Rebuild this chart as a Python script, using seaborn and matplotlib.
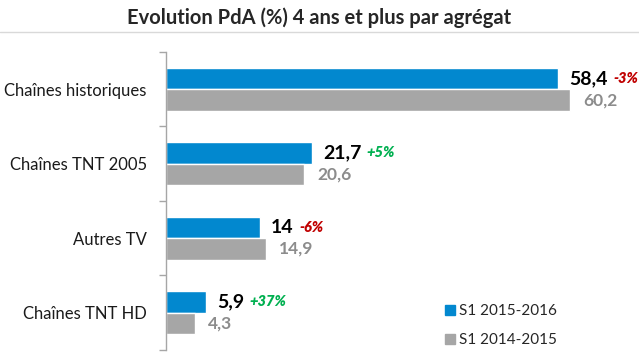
import pandas as pd
import numpy as np
import seaborn as sns
import matplotlib.pyplot as plt
from matplotlib.lines import Line2D

categories = ['Chaînes historiques', 'Chaînes TNT 2005', 'Autres TV', 'Chaînes TNT HD']
s1_2016 = [58.4, 21.7, 14, 5.9]
s1_2015 = [60.2, 20.6, 14.9, 4.3]
evolution = ['-3%', '+5%', '-6%', '+37%']
periods = ['S1 2015-2016', 'S1 2014-2015']

df = pd.DataFrame({
    'cat': categories * 2,
    'val': s1_2016 + s1_2015,
    'period': [periods[0]] * 4 + [periods[1]] * 4,
})

sns.set_theme(style='white')
plt.rcParams['font.family'] = ['Lato', 'DejaVu Sans']

fig = plt.figure(figsize=(6.39, 3.56), dpi=100)
ax = fig.add_axes([0.26, 0.017, 0.725, 0.837])

sns.barplot(data=df, y='cat', x='val', hue='period', orient='h', width=0.58,
            palette=['#0288CF', '#A6A6A6'], saturation=1, ax=ax, legend=True)

ax.set_xlim(0, 69)
ax.set_ylim(3.5, -0.5)
ax.set_xlabel('')
ax.set_ylabel('')
ax.set_xticks([])
for s in ['top', 'right', 'bottom']:
    ax.spines[s].set_visible(False)
ax.spines['left'].set_color('#A6A6A6')
ax.spines['left'].set_linewidth(1)

ax.set_yticks(range(len(categories)))
ax.set_yticklabels(categories, fontsize=12, color='#1a1a1a')
ax.tick_params(axis='y', which='major', length=0, pad=14)
ax.set_yticks(np.arange(-0.5, len(categories), 1), minor=True)
ax.tick_params(axis='y', which='minor', length=5, color='#A6A6A6', width=1, left=True)

fmt = lambda v: f'{v:g}'.replace('.', ',')

for bar, v, pct in zip(ax.containers[0], s1_2016, evolution):
    y = bar.get_y() + bar.get_height() / 2
    t = ax.annotate(fmt(v), xy=(bar.get_width(), y), xytext=(8, 0),
                    textcoords='offset points', va='center', ha='left',
                    fontsize=14, fontweight='bold', color='black')
    ax.annotate(pct, xy=(1, 0.5), xycoords=t, xytext=(4, 0),
                textcoords='offset points', va='center', ha='left',
                fontsize=10.5, fontweight='heavy', style='italic',
                color='#C00000' if pct.startswith('-') else '#00B050')

for bar, v in zip(ax.containers[1], s1_2015):
    y = bar.get_y() + bar.get_height() / 2
    ax.annotate(fmt(v), xy=(bar.get_width(), y), xytext=(9, 0),
                textcoords='offset points', va='center', ha='left',
                fontsize=12.5, fontweight='bold', color='#8C8C8C')

handles = [Line2D([], [], marker='s', linestyle='', markersize=7,
                  markerfacecolor=c, markeredgecolor=c)
           for c in ['#0288CF', '#A6A6A6']]
ax.legend(handles, periods, loc='center left', bbox_to_anchor=(0.671, 0.085),
          bbox_transform=fig.transFigure, frameon=False, fontsize=11,
          handletextpad=0.1, labelspacing=0.95, handlelength=1.0)

fig.text(0.5, 0.95, 'Evolution PdA (%) 4 ans et plus par agrégat',
         ha='center', va='center', fontsize=14.5, fontweight='bold')
fig.add_artist(Line2D([0, 1], [0.91, 0.91], color='#D9D9D9', lw=1,
                      transform=fig.transFigure))

plt.savefig('out.png', dpi=100)
